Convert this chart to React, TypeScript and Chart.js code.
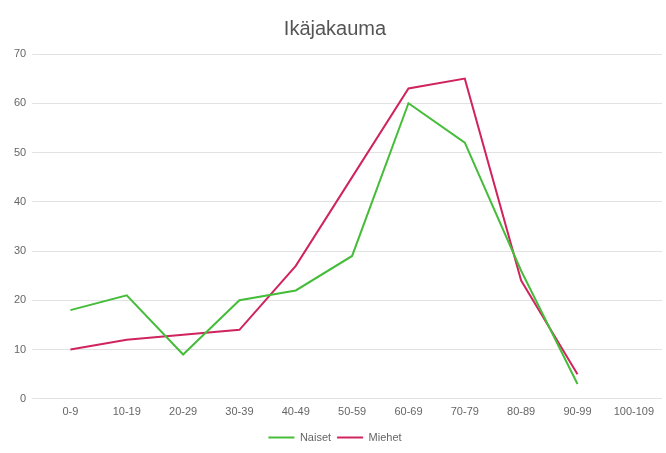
import React, { useEffect, useRef } from "react";
import { Chart, registerables } from "chart.js";

Chart.register(...registerables);

const categories = ["0-9", "10-19", "20-29", "30-39", "40-49", "50-59", "60-69", "70-79", "80-89", "90-99", "100-109"];
const naiset = [18, 21, 9, 20, 22, 29, 60, 52, 26, 3, null];
const miehet = [10, 12, 13, 14, 27, 45, 63, 65, 24, 5, null];
const titleText = "Ikäjakauma";

export default function App() {
  const ref = useRef<HTMLCanvasElement>(null);
  useEffect(() => {
    document.body.style.margin = "0";
    const chart = new Chart(ref.current!, {
      type: "line",
      data: {
        labels: categories,
        datasets: [
          { label: "Naiset", data: naiset, borderColor: "#46bd3a", backgroundColor: "#46bd3a", borderWidth: 2, pointRadius: 0, tension: 0 },
          { label: "Miehet", data: miehet, borderColor: "#d0245e", backgroundColor: "#d0245e", borderWidth: 2, pointRadius: 0, tension: 0 },
        ],
      },
      options: {
        animation: false,
        responsive: false,
        layout: { padding: { left: 8, right: 4, top: 6, bottom: 0 } },
        plugins: {
          title: {
            display: true,
            text: titleText,
            color: "#555",
            font: { family: "Liberation Sans, Arial, sans-serif", size: 20, weight: "normal" },
            padding: { top: 11, bottom: 13 },
          },
          legend: {
            position: "bottom",
            labels: {
              usePointStyle: true,
              pointStyle: "line",
              pointStyleWidth: 26,
              boxHeight: 2,
              padding: 6,
              color: "#666",
              font: { family: "Liberation Sans, Arial, sans-serif", size: 11 },
            },
          },
          tooltip: { enabled: false },
        },
        scales: {
          x: {
            offset: true,
            grid: { display: false, drawTicks: false },
            border: { display: false },
            ticks: { color: "#666", font: { family: "Liberation Sans, Arial, sans-serif", size: 11 }, maxRotation: 0, autoSkip: false, padding: 7 },
          },
          y: {
            min: 0,
            max: 70,
            ticks: { stepSize: 10, color: "#666", font: { family: "Liberation Sans, Arial, sans-serif", size: 11 }, padding: 6 },
            grid: { color: "#e2e2e2", tickLength: 10, drawTicks: true },
            border: { display: false },
          },
        },
      },
    });
    return () => chart.destroy();
  }, []);
  return <canvas ref={ref} width={666} height={453} style={{ display: "block" }} />;
}
